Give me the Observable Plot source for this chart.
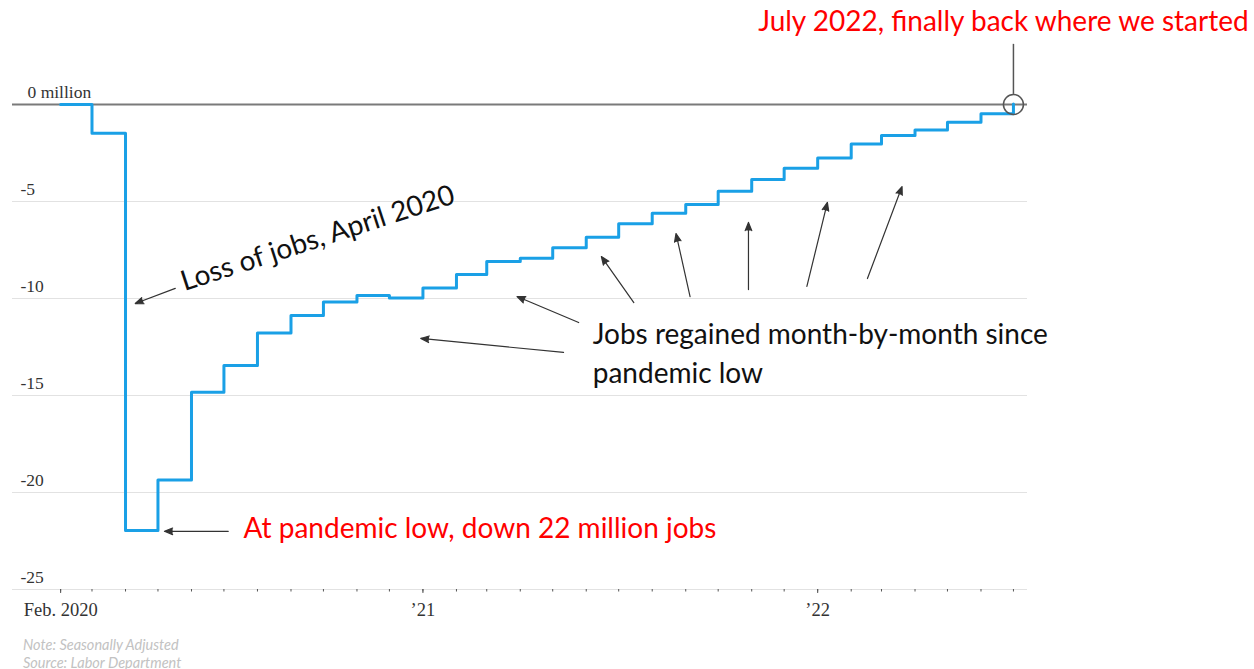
<!DOCTYPE html>
<html>
<head>
<meta charset="utf-8">
<script src="https://cdn.jsdelivr.net/npm/d3@7"></script>
<script src="https://cdn.jsdelivr.net/npm/@observablehq/plot@0.6"></script>
<style>
  body { margin: 0; background: #fff; }
  #chart { width: 1254px; height: 636px; }
  .caption { font-family: Lato, "Open Sans", sans-serif; font-style: italic; font-size: 14.5px; color: #c2c2c2; line-height: 18px; padding-left: 23px; }
</style>
</head>
<body>
<div id="chart"></div>
<div class="caption">Note: Seasonally Adjusted<br>Source: Labor Department</div>
<script>
// ---- Data: change in jobs since Feb. 2020 (millions), monthly ----
const months = ["2020-02","2020-03","2020-04","2020-05","2020-06","2020-07","2020-08","2020-09","2020-10","2020-11","2020-12",
  "2021-01","2021-02","2021-03","2021-04","2021-05","2021-06","2021-07","2021-08","2021-09","2021-10","2021-11","2021-12",
  "2022-01","2022-02","2022-03","2022-04","2022-05","2022-06","2022-07"];
const jobsChange = [0, -1.48, -21.96, -19.35, -14.83, -13.45, -11.78, -10.88, -10.18, -9.85, -9.98,
  -9.46, -8.76, -8.09, -7.92, -7.39, -6.84, -6.15, -5.6, -5.15, -4.47, -3.87, -3.28,
  -2.76, -2.03, -1.6, -1.31, -0.91, -0.48, 0.03];

// ---- Axis ticks ----
const yTicks = [0, -5, -10, -15, -20, -25];
const yTickLabels = ["0 million", "-5", "-10", "-15", "-20", "-25"];
const xLabelMonths = ["2020-02", "2021-01", "2022-01"];
const xLabelTexts = ["Feb. 2020", "\u201921", "\u201922"];

// ---- Annotations (data coordinates: date, millions) ----
const lossNote = {text: "Loss of jobs, April 2020", date: "2020-05-23", value: -9.18};
const lowNote = {text: "At pandemic low, down 22 million jobs", date: "2020-07-19", value: -21.86};
const regainNote = {text: "Jobs regained month-by-month since\npandemic low", date: "2021-06-07", value: -12.72};
const backNote = {text: "July 2022, finally back where we started", date: "2021-11-07", value: 4.24};
// arrows: [fromDate, fromValue, toDate, toValue]
const lossArrows = [["2020-05-17", -9.48, "2020-04-10", -10.26]];
const lowArrows = [["2020-07-05", -22.0, "2020-05-07", -22.0]];
const regainArrows = [
  ["2021-05-11", -12.78, "2020-12-30", -12.06],
  ["2021-05-25", -11.24, "2021-03-29", -9.90],
  ["2021-07-15", -10.21, "2021-06-15", -7.84],
  ["2021-09-05", -9.90, "2021-08-23", -6.65],
  ["2021-10-29", -9.54, "2021-10-29", -6.08],
  ["2021-12-22", -9.38, "2022-01-10", -5.05],
  ["2022-02-16", -8.97, "2022-03-20", -4.23]
];
const backMarker = {date: "2022-07", value: 0, stemFrom: 0.52, stemTo: 3.1};

// ---- Build ----
const parseMonth = d3.utcParse("%Y-%m");
const parseDay = d3.utcParse("%Y-%m-%d");
const series = months.map((m, i) => ({date: parseMonth(m), value: jobsChange[i]}));
const monthDates = series.map(d => d.date);
const labelMap = new Map(xLabelMonths.map((m, i) => [+parseMonth(m), xLabelTexts[i]]));
const labelDates = xLabelMonths.map(parseMonth);
const yLabelRows = yTicks.map((v, i) => ({value: v, label: yTickLabels[i]}));
const toArrow = a => ({x1: parseDay(a[0]), y1: a[1], x2: parseDay(a[2]), y2: a[3]});
const pd = s => s.length > 7 ? parseDay(s) : parseMonth(s);

const annFont = "Lato, 'Open Sans', sans-serif";
const serif = "'Liberation Serif', 'DejaVu Serif', serif";
const arrowStyle = {x1: "x1", y1: "y1", x2: "x2", y2: "y2", stroke: "#333", fill: "#333", strokeWidth: 1.2, headLength: 11, headAngle: 44};

const chart = Plot.plot({
  width: 1254,
  height: 636,
  marginLeft: 12,
  marginRight: 227,
  marginTop: 104,
  marginBottom: 47,
  style: {background: "#fff", overflow: "visible"},
  x: {type: "utc", domain: [new Date(Date.UTC(2019, 11, 18, 12)), new Date(Date.UTC(2022, 6, 14))]},
  y: {domain: [-25, 0], axis: null},
  marks: [
    Plot.gridY(yTicks.filter(v => v !== 0), {stroke: "#e2e2e2", strokeOpacity: 1, strokeWidth: 1}),
    Plot.ruleY([0], {stroke: "#7a7a7a", strokeWidth: 2}),
    Plot.text(yLabelRows.filter(d => d.value !== 0), {y: "value", text: "label", frameAnchor: "left", dx: 8, dy: -12, textAnchor: "start", fontFamily: serif, fontSize: 17.5, fill: "#333"}),
    Plot.text(yLabelRows.filter(d => d.value === 0), {y: "value", text: "label", frameAnchor: "left", dx: 15, dy: -12, textAnchor: "start", fontFamily: serif, fontSize: 17.5, fill: "#333"}),
    Plot.axisX(monthDates, {tickSize: 2.5, tickFormat: () => "", stroke: "#555"}),
    Plot.axisX(labelDates, {tickSize: 4, tickPadding: 9, tickFormat: d => labelMap.get(+d), stroke: "#555", fill: "#333", fontFamily: serif, fontSize: 18.5}),
    Plot.line(series, {x: "date", y: "value", curve: "step-after", stroke: "#1aa0e6", strokeWidth: 3}),
    // July 2022 marker
    Plot.ruleX([backMarker], {x: d => pd(d.date), y1: "stemFrom", y2: "stemTo", stroke: "#555", strokeWidth: 1.5}),
    Plot.dot([backMarker], {x: d => pd(d.date), y: "value", r: 10, stroke: "#555", strokeWidth: 1.5, fill: "none"}),
    // arrows
    Plot.arrow(lossArrows.map(toArrow), arrowStyle),
    Plot.arrow(lowArrows.map(toArrow), arrowStyle),
    Plot.arrow(regainArrows.map(toArrow), arrowStyle),
    // notes
    Plot.text([lossNote], {x: d => pd(d.date), y: "value", text: "text", rotate: -18, textAnchor: "start", lineAnchor: "middle", fontFamily: annFont, fontSize: 28, fill: "#111"}),
    Plot.text([lowNote], {x: d => pd(d.date), y: "value", text: "text", textAnchor: "start", lineAnchor: "middle", fontFamily: annFont, fontSize: 28, fill: "#ff0000"}),
    Plot.text([regainNote], {x: d => pd(d.date), y: "value", text: "text", textAnchor: "start", lineAnchor: "middle", lineHeight: 1.38, fontFamily: annFont, fontSize: 28, fill: "#111"}),
    Plot.text([backNote], {x: d => pd(d.date), y: "value", text: "text", textAnchor: "start", lineAnchor: "middle", fontFamily: annFont, fontSize: 28, fill: "#ff0000"})
  ]
});
document.getElementById("chart").appendChild(chart);
</script>
</body>
</html>
